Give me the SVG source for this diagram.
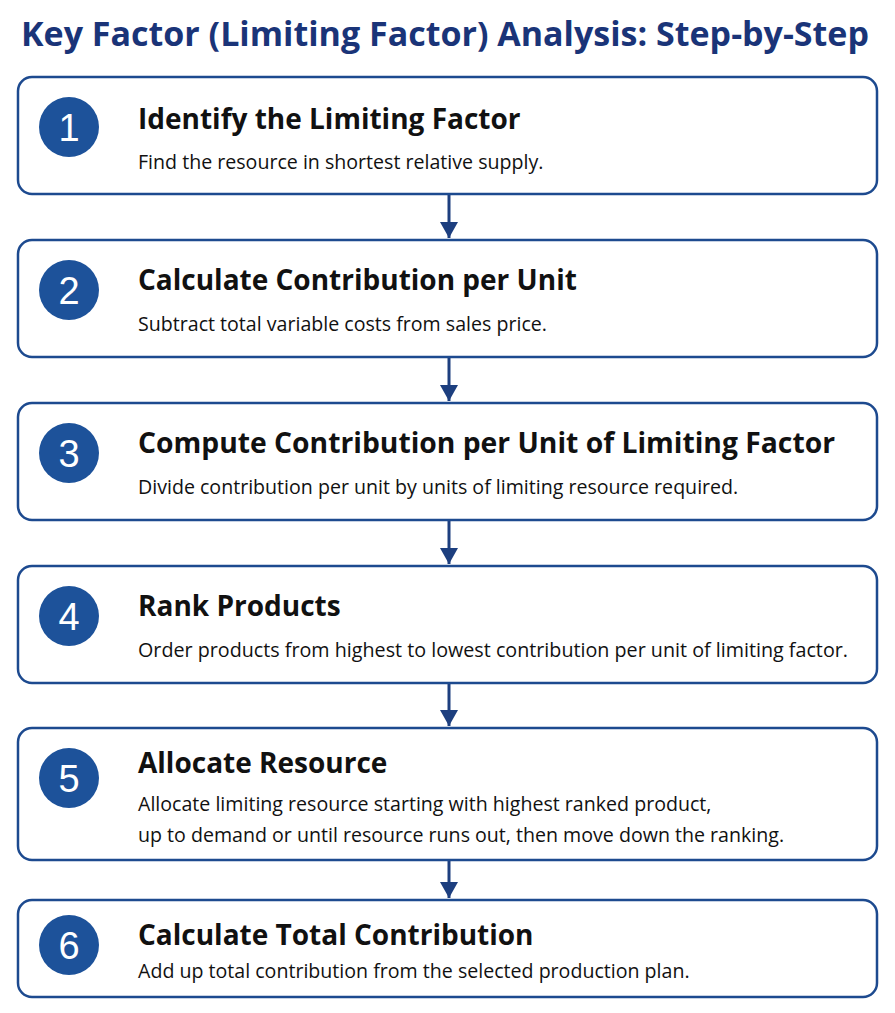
<svg xmlns="http://www.w3.org/2000/svg" width="895" height="1013" viewBox="0 0 895 1013">
<style>
.box{fill:#fff;stroke:#1d4a8f;stroke-width:2.5}
.c{fill:#1d529a}
.n{font-family:"Liberation Sans",sans-serif;font-size:38px;fill:#fff;text-anchor:middle}
.h{font-family:"Open Sans","Liberation Sans",sans-serif;font-weight:bold;font-size:28px;fill:#111}
.s{font-family:"Open Sans","Liberation Sans",sans-serif;font-size:19.6px;fill:#111}
.a{stroke:#1d3f7f;stroke-width:3;fill:none}
</style>
<rect width="895" height="1013" fill="#fff"/>
<text x="445" y="46" text-anchor="middle" font-family="Open Sans,Liberation Sans,sans-serif" font-weight="bold" font-size="34" fill="#1a3478">Key Factor (Limiting Factor) Analysis: Step-by-Step</text>
<g id="connectors">
<line class="a" x1="449" y1="195" x2="449" y2="238"/><path d="M440,222L458,222L449,238z" fill="#1d3f7f"/>
<line class="a" x1="449" y1="358" x2="449" y2="401"/><path d="M440,385L458,385L449,401z" fill="#1d3f7f"/>
<line class="a" x1="449" y1="521" x2="449" y2="564"/><path d="M440,548L458,548L449,564z" fill="#1d3f7f"/>
<line class="a" x1="449" y1="684" x2="449" y2="726"/><path d="M440,710L458,710L449,726z" fill="#1d3f7f"/>
<line class="a" x1="449" y1="861" x2="449" y2="898"/><path d="M440,882L458,882L449,898z" fill="#1d3f7f"/>
</g>
<g id="step1"><rect class="box" x="18" y="77" width="859" height="117" rx="14"/><circle class="c" cx="69" cy="127" r="30"/><text class="n" x="69" y="141">1</text><text class="h" x="138" y="129">Identify the Limiting Factor</text><text class="s" x="138" y="169">Find the resource in shortest relative supply.</text></g>
<g id="step2"><rect class="box" x="18" y="240" width="859" height="117" rx="14"/><circle class="c" cx="69" cy="290" r="30"/><text class="n" x="69" y="304">2</text><text class="h" x="138" y="290">Calculate Contribution per Unit</text><text class="s" x="138" y="331">Subtract total variable costs from sales price.</text></g>
<g id="step3"><rect class="box" x="18" y="403" width="859" height="117" rx="14"/><circle class="c" cx="69" cy="453" r="30"/><text class="n" x="69" y="467">3</text><text class="h" x="138" y="453" textLength="697" lengthAdjust="spacingAndGlyphs">Compute Contribution per Unit of Limiting Factor</text><text class="s" x="138" y="494">Divide contribution per unit by units of limiting resource required.</text></g>
<g id="step4"><rect class="box" x="18" y="566" width="859" height="117" rx="14"/><circle class="c" cx="69" cy="616" r="30"/><text class="n" x="69" y="630">4</text><text class="h" x="138" y="616">Rank Products</text><text class="s" x="138" y="657" textLength="710" lengthAdjust="spacingAndGlyphs">Order products from highest to lowest contribution per unit of limiting factor.</text></g>
<g id="step5"><rect class="box" x="18" y="728" width="859" height="132" rx="14"/><circle class="c" cx="69" cy="778" r="30"/><text class="n" x="69" y="792">5</text><text class="h" x="138" y="773">Allocate Resource</text><text class="s" x="138" y="811">Allocate limiting resource starting with highest ranked product,</text><text class="s" x="138" y="842">up to demand or until resource runs out, then move down the ranking.</text></g>
<g id="step6"><rect class="box" x="18" y="900" width="859" height="97" rx="14"/><circle class="c" cx="69" cy="945" r="30"/><text class="n" x="69" y="959">6</text><text class="h" x="138" y="945">Calculate Total Contribution</text><text class="s" x="138" y="978">Add up total contribution from the selected production plan.</text></g>
</svg>
